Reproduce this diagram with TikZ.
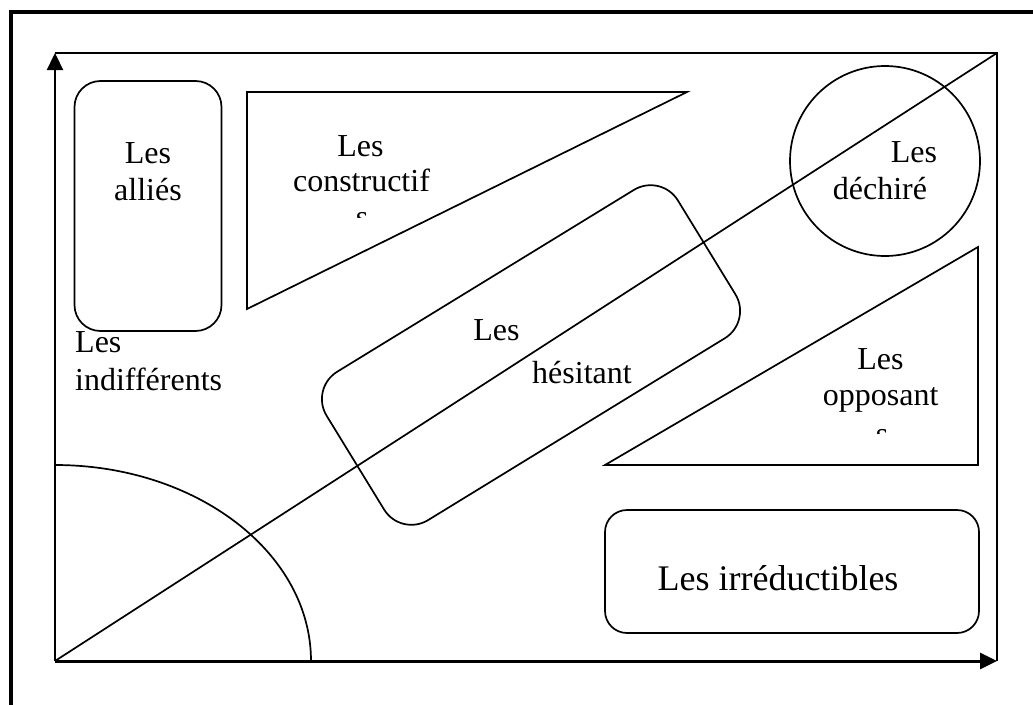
\documentclass[tikz,border=0pt]{standalone}
\usepackage{fontspec}
\setmainfont{Liberation Serif}
\usetikzlibrary{arrows.meta}
\begin{document}
\begin{tikzpicture}[x=1pt,y=-1pt,
  outline/.style={draw, line width=1.7pt},
  lbl/.style={anchor=base, inner sep=0pt, font=\fontsize{32}{37}\selectfont},
  lblw/.style={lbl, anchor=base west},
  axis/.style={line width=2.3pt},
  tip/.style={-{Triangle[length=17pt,width=16pt]}}
]
\useasboundingbox (0,0) rectangle (1033,704);
\clip (0,0) rectangle (1033,704);

% page frame
\draw[line width=4pt] (11,720) -- (11,12) -- (1050,12);

% axes and frame of the chart
\coordinate (O) at (55,661);
\coordinate (Ytop) at (55,53);
\coordinate (Xend) at (997,661);
\coordinate (TR) at (997,53);
\draw[axis] (Ytop) -- (TR) -- (Xend);
\draw[axis,tip] (O) -- (Ytop);
\draw[axis,line width=3pt,tip] (O) -- (Xend);
\draw[outline] (O) -- (TR);

% quarter ellipse at the origin
\draw[outline] (55,465) arc[start angle=-90, end angle=0, x radius=256, y radius=196];

% allies
\node[outline, rectangle, rounded corners=26pt, minimum width=147pt, minimum height=250pt, inner sep=0pt] (allies) at (148,206) {};
\node[lbl] (alliesA) at (148,163) {Les};
\node[lbl] (alliesB) at (148,200) {alliés};

% constructifs
\coordinate (c1) at (247,92);
\coordinate (c2) at (687,92);
\coordinate (c3) at (247,309);
\draw[outline] (c1) -- (c2) -- (c3) -- cycle;
\node[lbl] (consA) at (360.5,156) {Les};
\node[lbl] (consB) at (361.5,191) {constructif};
\begin{scope}
  \clip (320,200) rectangle (420,217.5);
  \node[lbl] (consC) at (362,227.5) {s};
\end{scope}

% dechires
\node[outline, circle, minimum size=190pt, inner sep=0pt] (dech) at (885,161) {};
\node[lbl] (dechA) at (914,162.7) {Les};
\node[lbl] (dechB) at (880,199) {déchiré};

% opposants
\coordinate (o1) at (978,247);
\coordinate (o2) at (978,465);
\coordinate (o3) at (605,465);
\draw[outline] (o1) -- (o2) -- (o3) -- cycle;
\node[lbl] (oppA) at (880.5,369) {Les};
\node[lbl] (oppB) at (880.7,405.7) {opposant};
\begin{scope}
  \clip (840,415) rectangle (930,433.5);
  \node[lbl] (oppC) at (882,444.5) {s};
\end{scope}

% hesitants
\node[outline, rectangle, rounded corners=32pt, minimum width=412pt, minimum height=174pt, inner sep=0pt, rotate=31.5] (hes) at (531,355) {};
\node[lbl] (hesA) at (496.5,340) {Les};
\node[lbl] (hesB) at (582,383) {hésitant};

% irreductibles
\node[outline, rectangle, rounded corners=22pt, minimum width=374pt, minimum height=123pt, inner sep=0pt] (irr) at (792,571.5) {};
\node[lbl, font=\fontsize{36}{41}\selectfont] (irrA) at (778,590) {Les irréductibles};

% indifferents
\node[lblw] (indA) at (75,352.5) {Les};
\node[lblw] (indB) at (75,390) {indifférents};
\end{tikzpicture}
\end{document}
